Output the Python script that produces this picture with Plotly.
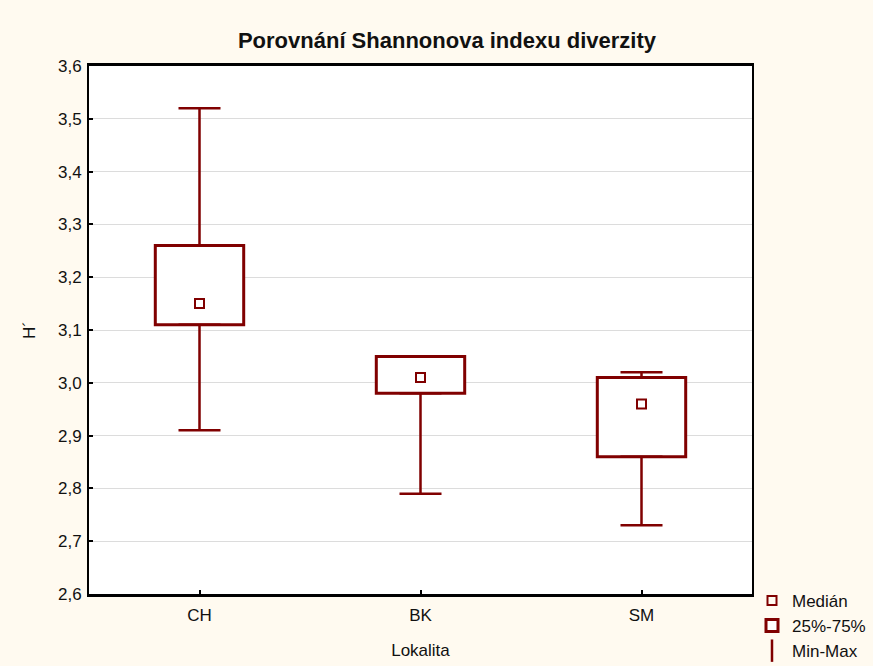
import plotly.graph_objects as go

categories = ["CH", "BK", "SM"]
minimum = [2.91, 2.79, 2.73]
q1 = [3.11, 2.98, 2.86]
median = [3.15, 3.01, 2.96]
q3 = [3.26, 3.05, 3.01]
maximum = [3.52, 3.05, 3.02]
y_ticks = [2.6, 2.7, 2.8, 2.9, 3.0, 3.1, 3.2, 3.3, 3.4, 3.5, 3.6]

RED = "#800000"
FONT = "Liberation Sans, Arial, sans-serif"

fig = go.Figure()

# whiskers upper
fig.add_trace(go.Scatter(
    x=categories, y=q3, mode="markers",
    marker=dict(size=1, color="rgba(0,0,0,0)"),
    error_y=dict(type="data", symmetric=False,
                 array=[a - b for a, b in zip(maximum, q3)],
                 arrayminus=[0, 0, 0], color=RED, thickness=2.5, width=21),
    showlegend=False, hoverinfo="skip"))
# whiskers lower
fig.add_trace(go.Scatter(
    x=categories, y=q1, mode="markers",
    marker=dict(size=1, color="rgba(0,0,0,0)"),
    error_y=dict(type="data", symmetric=False,
                 array=[0, 0, 0],
                 arrayminus=[a - b for a, b in zip(q1, minimum)],
                 color=RED, thickness=2.5, width=21),
    showlegend=False, hoverinfo="skip"))

# boxes
fig.add_trace(go.Bar(
    x=categories, y=[a - b for a, b in zip(q3, q1)], base=q1,
    width=0.4, marker=dict(color="white", line=dict(color=RED, width=3)),
    name="25%-75%", legendrank=2, hoverinfo="skip"))

# medians
fig.add_trace(go.Scatter(
    x=categories, y=median, mode="markers",
    marker=dict(symbol="square-open", size=9, color=RED, line=dict(width=2, color=RED)),
    name="Medián", legendrank=1))

# legend entry for min-max
fig.add_trace(go.Scatter(
    x=[None], y=[None], mode="markers",
    marker=dict(symbol="line-ns-open", size=18, color=RED, line=dict(width=2.5, color=RED)),
    name="Min-Max", legendrank=3))

fig.update_layout(
    width=873, height=666,
    margin=dict(l=89, r=121, t=66, b=72, autoexpand=False),
    paper_bgcolor="#fffaf0",
    plot_bgcolor="white",
    separators=", ",
    font=dict(family=FONT, size=17, color="#111111"),
    title=dict(text="<b>Porovnání Shannonova indexu diverzity</b>",
               x=0.512, xanchor="center", y=0.94, yanchor="middle",
               font=dict(size=22, family=FONT, color="#111111")),
    barmode="overlay",
    legend=dict(x=1.0, xanchor="left", y=0.021, yanchor="top",
                bgcolor="rgba(0,0,0,0)", font=dict(size=17),
                itemsizing="trace", tracegroupgap=0),
    xaxis=dict(
        title=dict(text="Lokalita", standoff=20, font=dict(size=17)),
        range=[-0.5, 2.5], showgrid=False, showline=True, linecolor="black",
        linewidth=2.5, mirror=True, ticks="inside", ticklen=4, tickcolor="black",
        tickwidth=1.5, zeroline=False, ticklabelstandoff=4),
    yaxis=dict(
        title=dict(text="H´", standoff=18, font=dict(size=17)),
        range=[2.6, 3.6], tickvals=y_ticks, tickformat=".1f",
        showgrid=True, gridcolor="#dcdcdc", gridwidth=1,
        showline=True, linecolor="black", linewidth=2, mirror=True,
        ticks="inside", ticklen=4, tickcolor="black", tickwidth=1.5,
        zeroline=False, ticklabelstandoff=2),
)

fig.write_html("out.html")
